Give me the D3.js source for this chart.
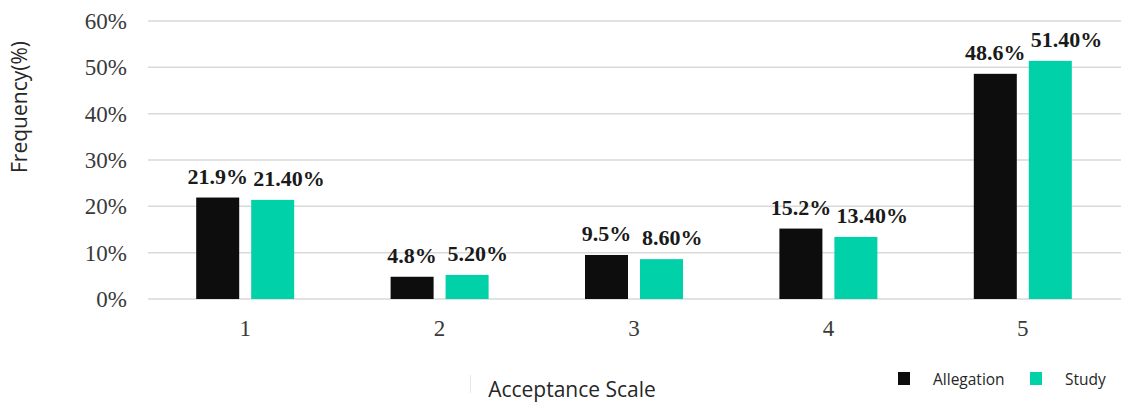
<!DOCTYPE html>
<html>
<head>
<meta charset="utf-8">
<script src="https://cdn.jsdelivr.net/npm/d3@7/dist/d3.min.js"></script>
<style>
  html, body { margin: 0; padding: 0; background: #ffffff; }
  svg { display: block; }
</style>
</head>
<body>
<svg id="chart" width="1121" height="404"></svg>
<script>
// Acceptance scale responses, in percent
const categories = ["1", "2", "3", "4", "5"];
const seriesNames = ["Allegation", "Study"];
const allegation = [21.9, 4.8, 9.5, 15.2, 48.6];
const study = [21.4, 5.2, 8.6, 13.4, 51.4];
const allegationLabels = ["21.9%", "4.8%", "9.5%", "15.2%", "48.6%"];
const studyLabels = ["21.40%", "5.20%", "8.60%", "13.40%", "51.40%"];
const yTicks = [0, 10, 20, 30, 40, 50, 60];

const colors = { Allegation: "#0d0d0d", Study: "#00d1a9" };

const svg = d3.select("#chart");
const plot = { left: 148, right: 1120, top: 21, bottom: 299 };

const x = d3.scaleBand().domain(categories).range([plot.left, plot.right]);
const groupWidth = 98;
const xSub = d3.scaleBand().domain(seriesNames)
  .range([-groupWidth / 2, groupWidth / 2]).paddingInner(0.218);
const y = d3.scaleLinear().domain([0, 60]).range([plot.bottom, plot.top]);

// horizontal gridlines
svg.append("g")
  .selectAll("line")
  .data(yTicks)
  .join("line")
  .attr("x1", plot.left)
  .attr("x2", 1121)
  .attr("y1", d => y(d))
  .attr("y2", d => y(d))
  .attr("stroke", "#d9d9d9")
  .attr("stroke-width", 1.5);

// y axis tick labels
const yAxis = d3.axisLeft(y).tickValues(yTicks).tickFormat(d => d + "%").tickSize(0).tickPadding(0);
const yAxisG = svg.append("g").attr("transform", `translate(127,0)`).call(yAxis);
yAxisG.select(".domain").remove();
yAxisG.selectAll("text")
  .attr("font-family", "'Liberation Serif', 'Times New Roman', serif")
  .attr("font-size", 23)
  .attr("fill", "#3a3a3a");

// x axis tick labels
const xAxis = d3.axisBottom(x).tickSize(0).tickPadding(0);
const xAxisG = svg.append("g").attr("transform", `translate(0,320)`).call(xAxis);
xAxisG.select(".domain").remove();
xAxisG.selectAll("text")
  .attr("dy", "0.71em")
  .attr("font-family", "'Liberation Serif', 'Times New Roman', serif")
  .attr("font-size", 23)
  .attr("fill", "#3a3a3a");

// bars
const rows = categories.map((c, i) => ({
  cat: c,
  items: [
    { series: "Allegation", value: allegation[i], label: allegationLabels[i] },
    { series: "Study", value: study[i], label: studyLabels[i] }
  ]
}));

const groups = svg.append("g")
  .selectAll("g")
  .data(rows)
  .join("g")
  .attr("transform", d => `translate(${x(d.cat) + x.bandwidth() / 2},0)`);

groups.selectAll("rect")
  .data(d => d.items)
  .join("rect")
  .attr("x", d => xSub(d.series))
  .attr("width", xSub.bandwidth())
  .attr("y", d => y(d.value))
  .attr("height", d => y(0) - y(d.value))
  .attr("fill", d => colors[d.series]);

// value labels
groups.selectAll("text")
  .data(d => d.items)
  .join("text")
  .attr("x", d => d.series === "Allegation"
    ? xSub(d.series) + xSub.bandwidth() / 2
    : xSub(d.series) + 2)
  .attr("y", d => y(d.value) - 14)
  .attr("text-anchor", d => d.series === "Allegation" ? "middle" : "start")
  .attr("font-family", "'Liberation Serif', 'Times New Roman', serif")
  .attr("font-weight", "bold")
  .attr("font-size", 22)
  .attr("fill", "#1a1a1a")
  .text(d => d.label);

// axis titles
svg.append("text")
  .attr("transform", "translate(27,107) rotate(-90)")
  .attr("text-anchor", "middle")
  .attr("font-family", "'Open Sans', sans-serif")
  .attr("font-size", 21)
  .attr("fill", "#262626")
  .text("Frequency(%)");

svg.append("line")
  .attr("x1", 470.5).attr("x2", 470.5)
  .attr("y1", 375).attr("y2", 393)
  .attr("stroke", "#e6e6e6");

svg.append("text")
  .attr("x", 572)
  .attr("y", 397)
  .attr("text-anchor", "middle")
  .attr("font-family", "'Open Sans', sans-serif")
  .attr("font-size", 21)
  .attr("fill", "#262626")
  .text("Acceptance Scale");

// legend
const legendPos = { Allegation: 898, Study: 1030 };
const legend = svg.append("g")
  .selectAll("g")
  .data(seriesNames)
  .join("g")
  .attr("transform", d => `translate(${legendPos[d]},372)`);
legend.append("rect")
  .attr("width", 12).attr("height", 13)
  .attr("fill", d => colors[d]);
legend.append("text")
  .attr("x", 35)
  .attr("y", 13)
  .attr("font-family", "'Open Sans', sans-serif")
  .attr("font-size", 15.5)
  .attr("fill", "#262626")
  .text(d => d);
</script>
</body>
</html>
